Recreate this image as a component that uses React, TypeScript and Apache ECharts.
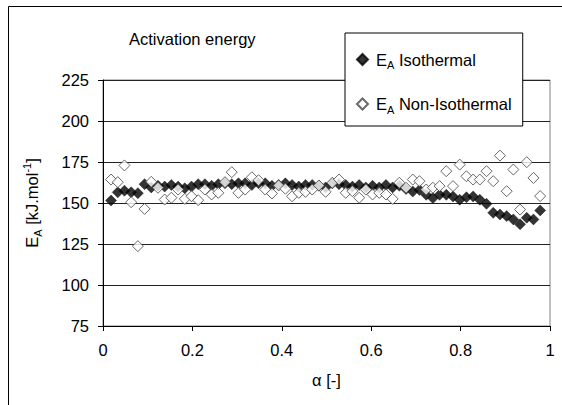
import React, { useEffect, useRef } from "react";
import * as echarts from "echarts";

const alpha = [
  0.018, 0.033, 0.048, 0.063, 0.078, 0.093, 0.108, 0.123, 0.138, 0.153,
  0.168, 0.183, 0.198, 0.213, 0.228, 0.243, 0.258, 0.273, 0.288, 0.303,
  0.318, 0.333, 0.348, 0.363, 0.378, 0.393, 0.408, 0.423, 0.438, 0.453,
  0.468, 0.483, 0.498, 0.513, 0.528, 0.543, 0.558, 0.573, 0.588, 0.603,
  0.618, 0.633, 0.648, 0.663, 0.678, 0.693, 0.708, 0.723, 0.738, 0.753,
  0.768, 0.783, 0.798, 0.813, 0.828, 0.843, 0.858, 0.873, 0.888, 0.903,
  0.918, 0.933, 0.948, 0.963, 0.978,
];

const isothermal = [
  151.5, 156.5, 157.5, 156.5, 156, 161.5, 159.5, 160.5, 160, 161,
  160, 159, 160, 161.5, 161.5, 160.5, 161.5, 162, 161.5, 162,
  162, 161, 162, 162, 160.5, 161, 162, 161, 160, 161,
  161, 160.5, 159.5, 162, 161.5, 161, 160, 161, 159.5, 160.5,
  159.5, 161, 159.5, 160.5, 158.5, 157, 158, 155, 153, 155,
  155, 154, 152, 153.5, 154, 152, 149.5, 144, 143, 142,
  140, 137, 141, 140, 145.5,
];

const nonIsothermal = [
  164.3, 162.7, 172.9, 150.5, 123.7, 146.4, 162.9, 159.3, 152.1, 153.2,
  158.2, 152.5, 154.1, 151.7, 158.2, 155.2, 156.2, 162.7, 168.8, 156.2,
  158.2, 165.7, 163.9, 158.2, 155.8, 160.7, 158.7, 154.1, 156.2, 156.8,
  158.2, 160.7, 156.8, 162.3, 164.3, 156.2, 157.2, 153.2, 158.2, 155.2,
  156.2, 155.2, 152.5, 162.3, 159.3, 164.3, 163.3, 158.2, 159.3, 160.3,
  169.4, 160.3, 173.4, 166.3, 164.3, 164.3, 169.4, 163.3, 178.9, 157.2,
  170.4, 146, 174.9, 165.3, 154.2,
];

const seriesNames = ["EA Isothermal", "EA Non-Isothermal"];
const legendLabels = ["Isothermal", "Non-Isothermal"];

export default function App() {
  const ref = useRef<HTMLDivElement>(null);
  useEffect(() => {
    document.body.style.margin = "0";
    const font = "'Liberation Sans', Arial, sans-serif";
    const fs = 16.5;
    const chart = echarts.init(ref.current!, null, { renderer: "svg" });
    const pair = (vals: number[]) => alpha.map((a, i) => [a, vals[i]]);
    chart.setOption({
      animation: false,
      backgroundColor: "#fff",
      textStyle: { fontFamily: font },
      title: {
        text: "Activation energy",
        left: 129,
        top: 30,
        padding: 0,
        textStyle: { fontFamily: font, fontSize: fs, fontWeight: "normal", color: "#000" },
      },
      graphic: [
        {
          type: "rect",
          shape: { x: 8.5, y: 6.5, width: 600, height: 500 },
          style: { fill: "none", stroke: "#000", lineWidth: 1 },
          silent: true,
          z: 100,
        },
      ],
      legend: {
        orient: "vertical",
        left: 345,
        top: 33,
        padding: [18, 11, 11, 11],
        itemGap: 25,
        itemWidth: 11,
        itemHeight: 11,
        backgroundColor: "#fff",
        borderColor: "#000",
        borderWidth: 1,
        data: seriesNames,
        formatter: (name: string) => {
          const i = seriesNames.indexOf(name);
          return "{e|E}{s|A}{t| " + legendLabels[i] + "}";
        },
        textStyle: {
          fontFamily: font,
          color: "#000",
          rich: {
            e: { fontSize: fs, fontFamily: font, color: "#000", lineHeight: 22, verticalAlign: "middle", padding: [0, 0, 0, 3] },
            s: { fontSize: 11, fontFamily: font, color: "#000", lineHeight: 22, verticalAlign: "bottom" },
            t: { fontSize: fs, fontFamily: font, color: "#000", lineHeight: 22, verticalAlign: "middle" },
          },
        },
      },
      grid: {
        left: 103,
        right: 12,
        top: 80,
        bottom: 79,
        show: true,
        borderColor: "#808080",
        borderWidth: 1,
        backgroundColor: "transparent",
      },
      xAxis: {
        type: "value",
        min: 0,
        max: 1,
        interval: 0.2,
        name: "α [-]",
        nameLocation: "middle",
        nameGap: 45,
        nameTextStyle: { fontFamily: font, fontSize: fs, color: "#000" },
        axisLine: { show: true, onZero: false, lineStyle: { color: "#000", width: 1 } },
        axisTick: { show: true, inside: false, length: 5, lineStyle: { color: "#000" } },
        axisLabel: { margin: 15, fontFamily: font, fontSize: fs, color: "#000" },
        splitLine: { show: false },
      },
      yAxis: {
        type: "value",
        min: 75,
        max: 225,
        interval: 25,
        name: "{e|E}{s|A}{t| [kJ.mol}{p|-1}{t|]}",
        nameLocation: "middle",
        nameGap: 60,
        nameRotate: 90,
        nameTextStyle: {
          fontFamily: font,
          fontSize: fs,
          color: "#000",
          rich: {
            e: { fontSize: fs, fontFamily: font, color: "#000", lineHeight: 22, verticalAlign: "middle" },
            s: { fontSize: 11, fontFamily: font, color: "#000", lineHeight: 22, verticalAlign: "bottom" },
            t: { fontSize: fs, fontFamily: font, color: "#000", lineHeight: 22, verticalAlign: "middle" },
            p: { fontSize: 11, fontFamily: font, color: "#000", lineHeight: 22, verticalAlign: "top" },
          },
        },
        axisLine: { show: true, onZero: false, lineStyle: { color: "#000", width: 1 } },
        axisTick: { show: true, inside: false, length: 5, lineStyle: { color: "#000" } },
        axisLabel: { margin: 14, fontFamily: font, fontSize: fs, color: "#000" },
        splitLine: { show: true, lineStyle: { color: "#222", width: 1 } },
      },
      series: [
        {
          name: seriesNames[0],
          type: "scatter",
          symbol: "diamond",
          symbolSize: 11,
          data: pair(isothermal),
          itemStyle: { color: "#000", borderColor: "#000", borderWidth: 0.5 },
          emphasis: { disabled: true },
          silent: true,
          z: 2,
        },
        {
          name: seriesNames[1],
          type: "scatter",
          symbol: "diamond",
          symbolSize: 11,
          data: pair(nonIsothermal),
          itemStyle: { color: "#fff", borderColor: "#444", borderWidth: 1 },
          emphasis: { disabled: true },
          silent: true,
          z: 3,
        },
      ],
    });
    return () => chart.dispose();
  }, []);
  return <div ref={ref} style={{ width: 562, height: 405 }} />;
}
